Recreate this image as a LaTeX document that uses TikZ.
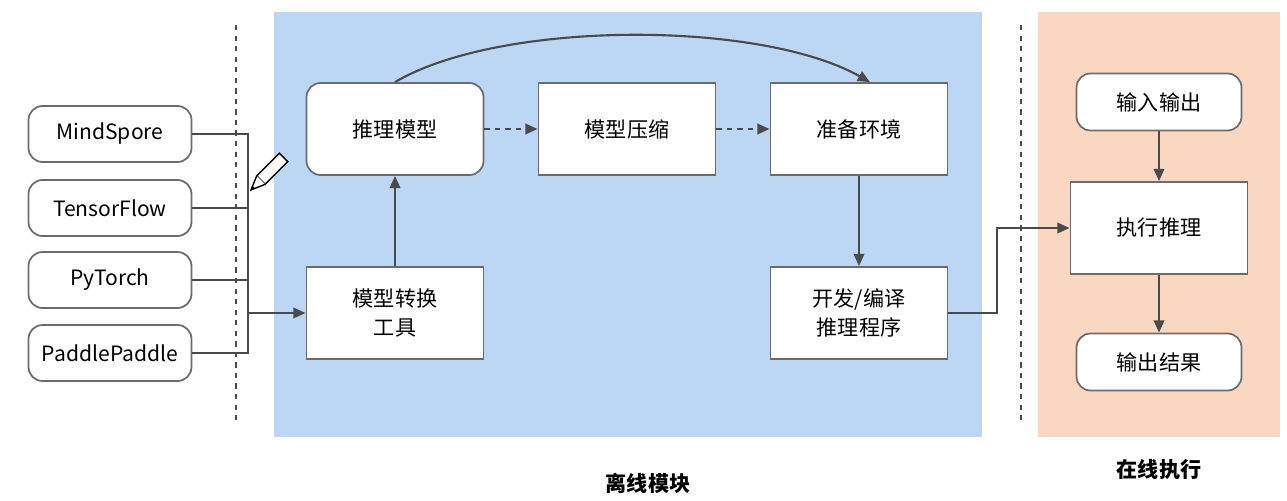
\documentclass[tikz,border=0pt]{standalone}
\usepackage{fontspec}
\setmainfont{Noto Sans CJK SC}
\usetikzlibrary{positioning, arrows.meta}
\definecolor{offline}{HTML}{BBD7F3}
\definecolor{online}{HTML}{FAD7C0}
\definecolor{edge}{HTML}{4A4A4A}
\tikzset{
x=0.02cm, y=-0.02cm, % pixel grid of the reference
>={Triangle[length=7pt,width=6pt]}, % filled arrow heads
box/.style={draw=gray!85!black, line width=1pt, fill=white, align=center, font=\fontsize{12}{16}\selectfont},
rbox/.style={box, rounded corners=8pt}, % rounded steps
fw/.style={rbox}, % frameworks
link/.style={->, draw=edge, line width=1.2pt},
}
\begin{document}
\begin{tikzpicture}
\useasboundingbox (0,0) rectangle (1287,500);
% regions
\fill[offline] (274,12) rectangle (982,437);
\fill[online] (1038,12) rectangle (1280,437);
\draw[dashed, line width=1.2pt, edge] (236,25) -- (236,425);
\draw[dashed, line width=1.2pt, edge] (1021,25) -- (1021,425);
% frameworks
\node[fw, minimum width=163*0.02cm, minimum height=56*0.02cm] (ms) at (110,134) {MindSpore};
\node[fw, minimum width=163*0.02cm, minimum height=56*0.02cm] (tf) at (110,208) {TensorFlow};
\node[fw, minimum width=163*0.02cm, minimum height=56*0.02cm] (pt) at (110,280) {PyTorch};
\node[fw, minimum width=163*0.02cm, minimum height=56*0.02cm] (pp) at (110,353) {PaddlePaddle};
% offline steps
\node[rbox, minimum width=177*0.02cm, minimum height=92*0.02cm] (infer) at (395,129) {推理模型};
\node[box, minimum width=177*0.02cm, minimum height=92*0.02cm] (comp) at (627,129) {模型压缩};
\node[box, minimum width=177*0.02cm, minimum height=92*0.02cm] (env) at (859,129) {准备环境};
\node[box, minimum width=177*0.02cm, minimum height=92*0.02cm] (conv) at (395,313) {模型转换\\工具};
\node[box, minimum width=177*0.02cm, minimum height=92*0.02cm] (dev) at (859,313) {开发/编译\\推理程序};
% online steps
\node[rbox, minimum width=165*0.02cm, minimum height=57*0.02cm] (io) at (1159,102) {输入输出};
\node[box, minimum width=177*0.02cm, minimum height=92*0.02cm] (run) at (1159,228) {执行推理};
\node[rbox, minimum width=165*0.02cm, minimum height=57*0.02cm] (out) at (1159,362) {输出结果};
% labels
\node[font=\bfseries\fontsize{12}{14}\selectfont] (offl) at (648,483) {离线模块};
\node[font=\bfseries\fontsize{12}{14}\selectfont] (onl) at (1159,470) {在线执行};
% pencil
\begin{scope}[shift={(268,173)}, rotate=-45]
\draw[fill=white, line width=0.8pt] (-6,-22) rectangle (6,10);
\draw[fill=white, line width=0.8pt] (-6,10) -- (0,24) -- (6,10);
\fill (-2,20) -- (0,24) -- (2,20) -- cycle;
\end{scope}
% connectors
\coordinate (join) at (248,313);
\draw[draw=edge, line width=1.2pt] (ms.east) -| (join) (tf.east) -| (join) (pt.east) -| (join) (pp.east) -| (join);
\draw[link] (join) -- (conv.west);
\draw[link] (conv) -- (infer);
\draw[link, dashed] (infer) -- (comp);
\draw[link, dashed] (comp) -- (env);
\draw[link] (infer.north) .. controls (500,20) and (760,20) .. ([xshift=11*0.02cm]env.north);
\draw[link] (env) -- (dev);
\draw[link] (dev.east) -| (997,228) -- (run.west);
\draw[link] (io) -- (run);
\draw[link] (run) -- (out);
\end{tikzpicture}
\end{document}
